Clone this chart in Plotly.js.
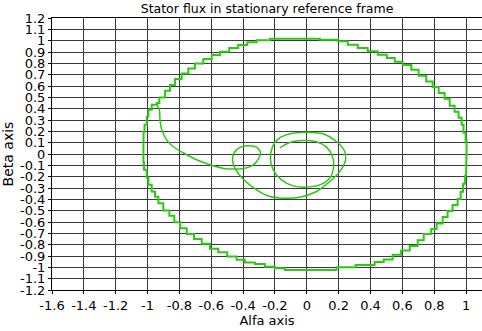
<!DOCTYPE html>
<html>
<head>
<meta charset="utf-8">
<script src="https://cdn.plot.ly/plotly-3.0.1.min.js"></script>
<style>
  html, body { margin: 0; padding: 0; background: #fff; }
  #chart { width: 482px; height: 331px; }
</style>
</head>
<body>
<div id="chart"></div>
<script>
// Start-up transient of the stator flux (densely sampled)
const transAlpha = [-0.942, -0.926, -0.922, -0.911, -0.880, -0.840, -0.777, -0.692, -0.608, -0.527,
  -0.464, -0.389, -0.345, -0.315, -0.290, -0.315, -0.378, -0.441, -0.466, -0.451,
  -0.399, -0.315, -0.232, -0.149, -0.044, 0.061, 0.144, 0.207, 0.243, 0.238,
  0.186, 0.102, -0.002, -0.107, -0.180, -0.215, -0.228, -0.211, -0.159, -0.086,
  -0.002, 0.082, 0.144, 0.169, 0.161, 0.124, 0.061, -0.023, -0.107, -0.169];
const transBeta = [0.435, 0.390, 0.302, 0.214, 0.125, 0.066, 0.011, -0.051, -0.095, -0.125,
  -0.133, -0.125, -0.104, -0.066, 0.008, 0.061, 0.072, 0.037, -0.036, -0.125,
  -0.222, -0.316, -0.375, -0.390, -0.381, -0.331, -0.243, -0.155, -0.051, 0.022,
  0.110, 0.178, 0.193, 0.178, 0.132, 0.066, -0.051, -0.140, -0.228, -0.281,
  -0.292, -0.272, -0.213, -0.110, -0.022, 0.061, 0.108, 0.119, 0.102, 0.055];

// Steady-state flux circle (coarse samples, held between samples)
const steadyAlpha = [-0.942, -0.926, -0.890, -0.859, -0.828, -0.786, -0.744, -0.702, -0.650, -0.597,
  -0.545, -0.487, -0.431, -0.374, -0.315, -0.232, -0.107, 0.082, 0.194, 0.257,
  0.320, 0.382, 0.445, 0.502, 0.552, 0.602, 0.656, 0.702, 0.750, 0.790,
  0.828, 0.865, 0.897, 0.928, 0.953, 0.972, 0.984, 0.997, 1.003, 1.003,
  1.000, 0.994, 0.981, 0.966, 0.947, 0.915, 0.884, 0.853, 0.815, 0.781,
  0.734, 0.696, 0.646, 0.592, 0.539, 0.483, 0.426, 0.307, 0.186, -0.002,
  -0.138, -0.201, -0.263, -0.326, -0.389, -0.441, -0.500, -0.556, -0.608, -0.660,
  -0.708, -0.754, -0.796, -0.832, -0.863, -0.901, -0.932, -0.953, -0.974, -0.995,
  -1.005, -1.022, -1.026, -1.025, -1.019, -1.005, -0.995, -0.974, -0.942, -0.926];
const steadyBeta = [0.435, 0.450, 0.499, 0.558, 0.609, 0.662, 0.711, 0.755, 0.799, 0.838,
  0.874, 0.903, 0.936, 0.962, 0.985, 1.004, 1.018, 1.009, 0.994, 0.965,
  0.936, 0.906, 0.876, 0.847, 0.815, 0.785, 0.744, 0.691, 0.640, 0.591,
  0.538, 0.488, 0.426, 0.373, 0.320, 0.258, 0.187, 0.117, 0.046, -0.051,
  -0.122, -0.193, -0.263, -0.334, -0.396, -0.449, -0.502, -0.555, -0.613, -0.661,
  -0.705, -0.762, -0.811, -0.851, -0.890, -0.930, -0.952, -0.979, -0.999, -1.023,
  -1.008, -0.994, -0.970, -0.957, -0.934, -0.905, -0.867, -0.837, -0.793, -0.749,
  -0.705, -0.655, -0.602, -0.544, -0.499, -0.434, -0.378, -0.331, -0.272, -0.210,
  -0.140, -0.078, 0.011, 0.125, 0.196, 0.258, 0.329, 0.390, 0.435, 0.450];

// Axis ticks
const alphaTicks = [-1.6, -1.4, -1.2, -1, -0.8, -0.6, -0.4, -0.2, 0, 0.2, 0.4, 0.6, 0.8, 1];
const alphaTickText = ['-1.6', '-1.4', '-1.2', '-1', '-0.8', '-0.6', '-0.4', '-0.2', '0', '0.2', '0.4', '0.6', '0.8', '1'];
const betaTicks = [-1.2, -1.1, -1, -0.9, -0.8, -0.7, -0.6, -0.5, -0.4, -0.3, -0.2, -0.1, 0,
  0.1, 0.2, 0.3, 0.4, 0.5, 0.6, 0.7, 0.8, 0.9, 1, 1.1, 1.2];
const betaTickText = ['-1.2', '-1.1', '-1', '-0.9', '-0.8', '-0.7', '-0.6', '-0.5', '-0.4', '-0.3', '-0.2', '-0.1', '0',
  '0.1', '0.2', '0.3', '0.4', '0.5', '0.6', '0.7', '0.8', '0.9', '1', '1.1', '1.2'];

// Sample-and-hold path: between samples, step via the corner lying outside the circle
function heldPath(xs, ys) {
  const ox = [xs[0]], oy = [ys[0]];
  for (let i = 1; i < xs.length; i++) {
    const x0 = xs[i - 1], y0 = ys[i - 1], x1 = xs[i], y1 = ys[i];
    const a = Math.hypot(x1, y0), b = Math.hypot(x0, y1);
    if (a >= b) { ox.push(x1); oy.push(y0); } else { ox.push(x0); oy.push(y1); }
    ox.push(x1); oy.push(y1);
  }
  return { x: ox, y: oy };
}

const green = 'rgb(45,200,20)';
const held = heldPath(steadyAlpha, steadyBeta);

const traces = [
  { x: transAlpha, y: transBeta, type: 'scatter', mode: 'lines',
    line: { color: green, width: 1.5, shape: 'spline', smoothing: 0.8 }, hoverinfo: 'skip' },
  { x: held.x, y: held.y, type: 'scatter', mode: 'lines',
    line: { color: green, width: 2 }, hoverinfo: 'skip' }
];

const font = { family: 'DejaVu Sans, sans-serif', color: '#000' };
const layout = {
  width: 482, height: 331,
  margin: { l: 52, r: 0, t: 18, b: 41, pad: 0 },
  paper_bgcolor: '#fff', plot_bgcolor: '#fff',
  showlegend: false,
  font: Object.assign({ size: 13 }, font),
  title: { text: 'Stator flux in stationary reference frame', font: Object.assign({ size: 12.5 }, font),
    x: 0.554, xanchor: 'center', y: 0.973, yanchor: 'middle', yref: 'container' },
  xaxis: {
    range: [-1.6, 1.1], tickmode: 'array', tickvals: alphaTicks, ticktext: alphaTickText,
    showgrid: true, gridcolor: '#3a3a3a', gridwidth: 1, zeroline: false,
    showline: true, linecolor: '#000', linewidth: 1, mirror: true,
    ticks: 'outside', ticklen: 3, tickcolor: '#000',
    tickfont: Object.assign({ size: 13 }, font),
    title: { text: 'Alfa axis', font: Object.assign({ size: 13 }, font), standoff: 4 }
  },
  yaxis: {
    range: [-1.2, 1.2], tickmode: 'array', tickvals: betaTicks, ticktext: betaTickText,
    showgrid: true, gridcolor: '#3a3a3a', gridwidth: 1, zeroline: false,
    showline: true, linecolor: '#000', linewidth: 1,
    ticks: 'outside', ticklen: 3, tickcolor: '#000',
    tickfont: Object.assign({ size: 13 }, font),
    title: { text: 'Beta axis', font: Object.assign({ size: 14 }, font), standoff: 4 }
  }
};

Plotly.newPlot('chart', traces, layout, { staticPlot: true, displayModeBar: false });
</script>
</body>
</html>
